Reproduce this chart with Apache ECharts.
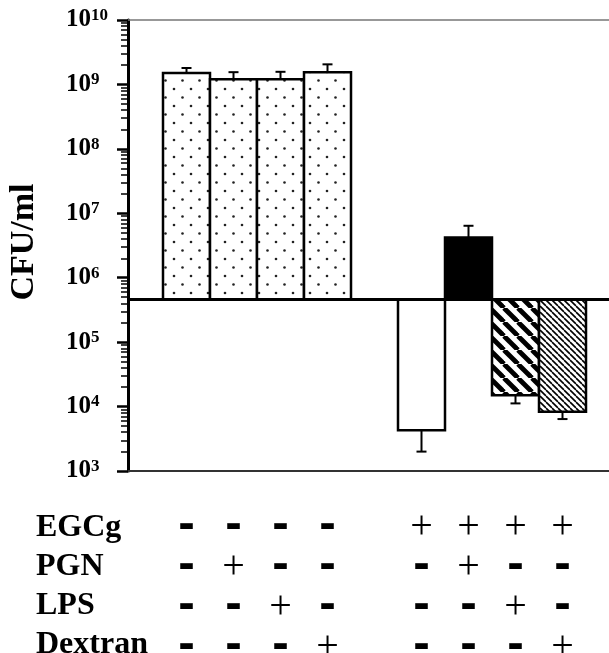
<!DOCTYPE html>
<html><head><meta charset="utf-8">
<script src="https://cdn.jsdelivr.net/npm/echarts@6/dist/echarts.min.js"></script>
<style>html,body{margin:0;padding:0;background:#fff}#c{width:609px;height:653px}</style>
</head><body><div id="c"></div>
<script>
// ---- data ----
const slots = ['Control','PGN','LPS','Dextran','','EGCg','EGCg+PGN','EGCg+LPS','EGCg+Dextran'];
const cfu    = [1.5e9, 1.2e9, 1.2e9, 1.55e9, null, 4.3e3, 4.2e6, 1.5e4, 8.3e3];
const errEnd = [1.8e9, 1.55e9, 1.57e9, 2.05e9, null, 2.0e3, 6.4e6, 1.12e4, 6.4e3];
const baseline = 4.6e5;
const rowNames = ['EGCg','PGN','LPS','Dextran'];
const egcg    = ['-','-','-','-','','+','+','+','+'];
const pgn     = ['-','+','-','-','','-','+','-','-'];
const lps     = ['-','-','+','-','','-','-','+','-'];
const dextran = ['-','-','-','+','','-','-','-','+'];
const majorExps = [3,4,5,6,7,8,9,10];
const minorMult = [2,3,4,5,6,7,8,9];

// ---- styles ----
const SERIF = '"Liberation Serif","Times New Roman",serif';
function makeCanvas(w,h,draw){const c=document.createElement('canvas');c.width=w;c.height=h;draw(c.getContext('2d'),w,h);return c;}
const dotTile = makeCanvas(17,17,g=>{g.fillStyle='#fff';g.fillRect(0,0,17,17);g.fillStyle='#222';
  [[4,4],[12.5,12.5]].forEach(([x,y])=>{g.beginPath();g.arc(x,y,1.3,0,Math.PI*2);g.fill();});});
function hatch(P,lw){return makeCanvas(P,P,g=>{g.fillStyle='#fff';g.fillRect(0,0,P,P);g.strokeStyle='#000';g.lineWidth=lw;
  for(let k=-1;k<=1;k++){g.beginPath();g.moveTo(k*P,0);g.lineTo(k*P+P,P);g.stroke();}});}
const dots = {image: dotTile, repeat:'repeat'};
const wide = {image: hatch(14,4.8), repeat:'repeat'};
const fine = {image: hatch(6,1.6), repeat:'repeat'};
const fills = [dots,dots,dots,dots,null,'#fff','#000',wide,fine];

const majors = majorExps.map(e=>Math.pow(10,e));
const minors = [];
majorExps.slice(0,-1).forEach(e=>minorMult.forEach(m=>minors.push(m*Math.pow(10,e))));

const barData = [];
cfu.forEach((v,i)=>{ if(v!=null) barData.push([i, v, errEnd[i]]); });

function renderBar(params, api){
  const i = api.value(0), v = api.value(1), e = api.value(2);
  const b = api.coord([i, baseline]);
  const t = api.coord([i, v]);
  const ep = api.coord([i, e]);
  const w = api.size([1,0])[0];
  const cap = 10;
  return {type:'group', children:[
    {type:'rect', shape:{x:b[0]-w/2, y:Math.min(b[1],t[1]), width:w, height:Math.abs(b[1]-t[1])},
     style:{fill:fills[i], stroke:'#000', lineWidth:2.5}},
    {type:'line', shape:{x1:t[0],y1:t[1],x2:ep[0],y2:ep[1]}, style:{stroke:'#000',lineWidth:2}},
    {type:'line', shape:{x1:ep[0]-cap/2,y1:ep[1],x2:ep[0]+cap/2,y2:ep[1]}, style:{stroke:'#000',lineWidth:2}}
  ]};
}

function tableLabel(val, idx){
  return [egcg[idx],pgn[idx],lps[idx],dextran[idx]]
    .map(s => s==='+' ? '{p|+}' : (s==='-' ? '{m|-}' : '{e| }')).join('\n');
}

const chart = echarts.init(document.getElementById('c'), null, {renderer:'canvas'});
chart.setOption({
  animation:false,
  backgroundColor:'#fff',
  grid:[
    {left:128, right:0, top:20, bottom:182, outerBoundsMode:'none', containLabel:false},
    {left:163, right:23, top:20, bottom:182, outerBoundsMode:'none', containLabel:false}
  ],
  xAxis:[
    {gridIndex:0, type:'value', min:0, max:1, position:'bottom',
     axisLine:{show:true, lineStyle:{color:'#333', width:2}}, axisTick:{show:false}, axisLabel:{show:false}, splitLine:{show:false}},
    {gridIndex:0, type:'value', min:0, max:1, position:'top',
     axisLine:{show:true, lineStyle:{color:'#777', width:1.5}}, axisTick:{show:false}, axisLabel:{show:false}, splitLine:{show:false}},
    {gridIndex:1, type:'category', data:slots,
     axisLine:{show:false}, axisTick:{show:false}, splitLine:{show:false},
     axisLabel:{show:true, interval:0, margin:36, formatter:tableLabel, color:'#000',
       rich:{
         m:{fontFamily:'"DejaVu Sans"', fontWeight:'bold', fontSize:41, lineHeight:40, color:'#000'},
         p:{fontFamily:SERIF, fontWeight:'normal', fontSize:40, lineHeight:40, color:'#000'},
         e:{fontSize:20, lineHeight:40}
       }}}
  ],
  yAxis:[
    {gridIndex:0, type:'log', logBase:10, min:1e3, max:1e10, interval:1, position:'left',
     axisLine:{show:true, lineStyle:{color:'#000', width:3}},
     axisTick:{show:true, inside:false, length:11, customValues:majors, lineStyle:{color:'#000', width:2.5}},
     splitLine:{show:false},
     axisLabel:{show:true, margin:62, align:'left', customValues:majors, color:'#000',
       formatter: v => '{b|10}{s|' + Math.round(Math.log10(v)) + '}',
       rich:{
         b:{fontFamily:SERIF, fontWeight:'bold', fontSize:25, color:'#000'},
         s:{fontFamily:SERIF, fontWeight:'bold', fontSize:17, color:'#000', padding:[0,0,9,0]}
       }}},
    {gridIndex:0, type:'log', logBase:10, min:1e3, max:1e10, position:'left',
     axisLine:{show:false}, axisLabel:{show:false}, splitLine:{show:false},
     axisTick:{show:true, inside:false, length:7, customValues:minors, lineStyle:{color:'#000', width:1.5}}},
    {gridIndex:1, type:'log', logBase:10, min:1e3, max:1e10, show:false}
  ],
  graphic:[
    {type:'text', x:24, y:242, rotation:Math.PI/2,
     style:{text:'CFU/ml', font:'bold 34px ' + SERIF, fill:'#000', align:'center', verticalAlign:'middle'}}
  ].concat(rowNames.map((n,k)=>({type:'text', left:36, top:512 + k*39,
     style:{text:n, font:'bold 32px ' + SERIF, fill:'#000'}}))),
  series:[
    {type:'custom', xAxisIndex:2, yAxisIndex:2, data:barData, renderItem:renderBar, z:2},
    {type:'line', xAxisIndex:0, yAxisIndex:0, data:[], z:5,
     markLine:{silent:true, symbol:'none', animation:false, label:{show:false},
       lineStyle:{color:'#000', width:3, type:'solid'}, data:[{yAxis:baseline}]}}
  ]
});
</script></body></html>
